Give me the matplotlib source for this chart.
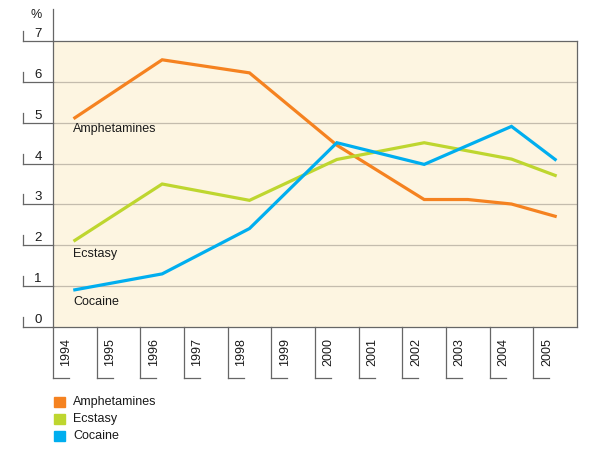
import matplotlib
matplotlib.use("Agg")
import matplotlib.pyplot as plt
from matplotlib.patches import Rectangle

plt.rcParams['font.family'] = ['Liberation Sans', 'DejaVu Sans']

years = ['1994', '1995', '1996', '1997', '1998', '1999', '2000', '2001', '2002', '2003', '2004', '2005']

amph_years = ['1994', '1996', '1998', '2000', '2002', '2003', '2004', '2005']
amph_vals = [5.12, 6.54, 6.22, 4.45, 3.12, 3.12, 3.01, 2.71]

ecst_years = ['1994', '1996', '1998', '2000', '2002', '2004', '2005']
ecst_vals = [2.12, 3.50, 3.10, 4.10, 4.51, 4.11, 3.71]

coca_years = ['1994', '1996', '1998', '2000', '2002', '2004', '2005']
coca_vals = [0.91, 1.30, 2.41, 4.51, 3.98, 4.91, 4.10]

series_names = ['Amphetamines', 'Ecstasy', 'Cocaine']
colors = ['#f58220', '#bed62f', '#00aeef']
yticks = [0, 1, 2, 3, 4, 5, 6, 7]

W, H = 600, 453
fig = plt.figure(figsize=(W / 100, H / 100), dpi=100)
L, R, T, B = 53, 577, 41, 327
ax = fig.add_axes([L / W, (H - B) / H, (R - L) / W, (B - T) / H])
ax.set_xlim(0, len(years))
ax.set_ylim(0, 7)
ax.set_facecolor('#fdf5e1')
for s in ax.spines.values():
    s.set_visible(False)
ax.set_xticks([])
ax.set_yticks([])

axis_col = '#666666'
grid_col = '#c4bcad'
txt_col = '#1a1a1a'
pxx = (R - L) / len(years)      # px per band
pxy = (B - T) / 7.0             # px per unit

# grid lines
for v in yticks[1:-1]:
    ax.axhline(v, color=grid_col, lw=0.9, zorder=1)

# frame
ytr = ax.get_yaxis_transform()
xtr = ax.get_xaxis_transform()
ax.plot([0, 1], [7, 7], transform=ytr, color=axis_col, lw=0.9, clip_on=False, zorder=3)
ax.plot([1, 1], [0, 7], transform=ytr, color=axis_col, lw=0.9, clip_on=False, zorder=3)
ax.plot([0, 1], [0, 0], transform=ytr, color=axis_col, lw=0.9, clip_on=False, zorder=3)
ax.plot([0, 0], [0, 7 + (T - 9) / pxy], transform=ytr, color=axis_col, lw=0.9, clip_on=False, zorder=3)

# y tick brackets and labels
xb = (23 - L) / (R - L)
for v in yticks:
    ax.plot([xb, 0], [v, v], transform=ytr, color=axis_col, lw=0.9, clip_on=False)
    ax.plot([xb, xb], [v, v + 10 / pxy], transform=ytr, color=axis_col, lw=0.9, clip_on=False)
    ax.text((38 - L) / (R - L), v + 4 / pxy, str(v), transform=ytr, ha='center', va='baseline',
            fontsize=9.5, color=txt_col)
ax.text((36 - L) / (R - L), (B - 15) / (B - T), '%', transform=ax.transAxes, ha='center',
        va='center', fontsize=9, color=txt_col)

# x tick brackets and labels
yb = (B - 378) / (B - T)
for i, y in enumerate(years):
    ax.plot([i, i], [0, yb], transform=xtr, color=axis_col, lw=0.9, clip_on=False)
    ax.plot([i, i + 16 / pxx], [yb, yb], transform=xtr, color=axis_col, lw=0.9, clip_on=False)
    ax.text(i + 13.5 / pxx, (B - 352) / (B - T), y, transform=xtr, rotation=90,
            ha='center', va='center', fontsize=9, color=txt_col)

# series
def xpos(ys):
    return [years.index(y) + 0.5 for y in ys]

data = [(amph_years, amph_vals), (ecst_years, ecst_vals), (coca_years, coca_vals)]
for (ys, vs), c in zip(data, colors):
    ax.plot(xpos(ys), vs, color=c, lw=2.3, solid_joinstyle='miter', zorder=4, clip_on=False)

# inline labels
label_y = [(B - 129) / pxy, (B - 254) / pxy, (B - 302) / pxy]
for name, ly in zip(series_names, label_y):
    ax.text(20 / pxx, ly, name, ha='left', va='center', fontsize=9, color=txt_col, zorder=5)

# legend
for k, (name, c) in enumerate(zip(series_names, colors)):
    yc = 402 + 17 * k
    fig.patches.append(Rectangle((54 / W, (H - yc - 5) / H), 10.5 / W, 10 / H,
                                 transform=fig.transFigure, color=c, figure=fig))
    fig.text(73 / W, (H - yc) / H, name, ha='left', va='center', fontsize=9, color=txt_col)

fig.savefig('out.png', dpi=100)
